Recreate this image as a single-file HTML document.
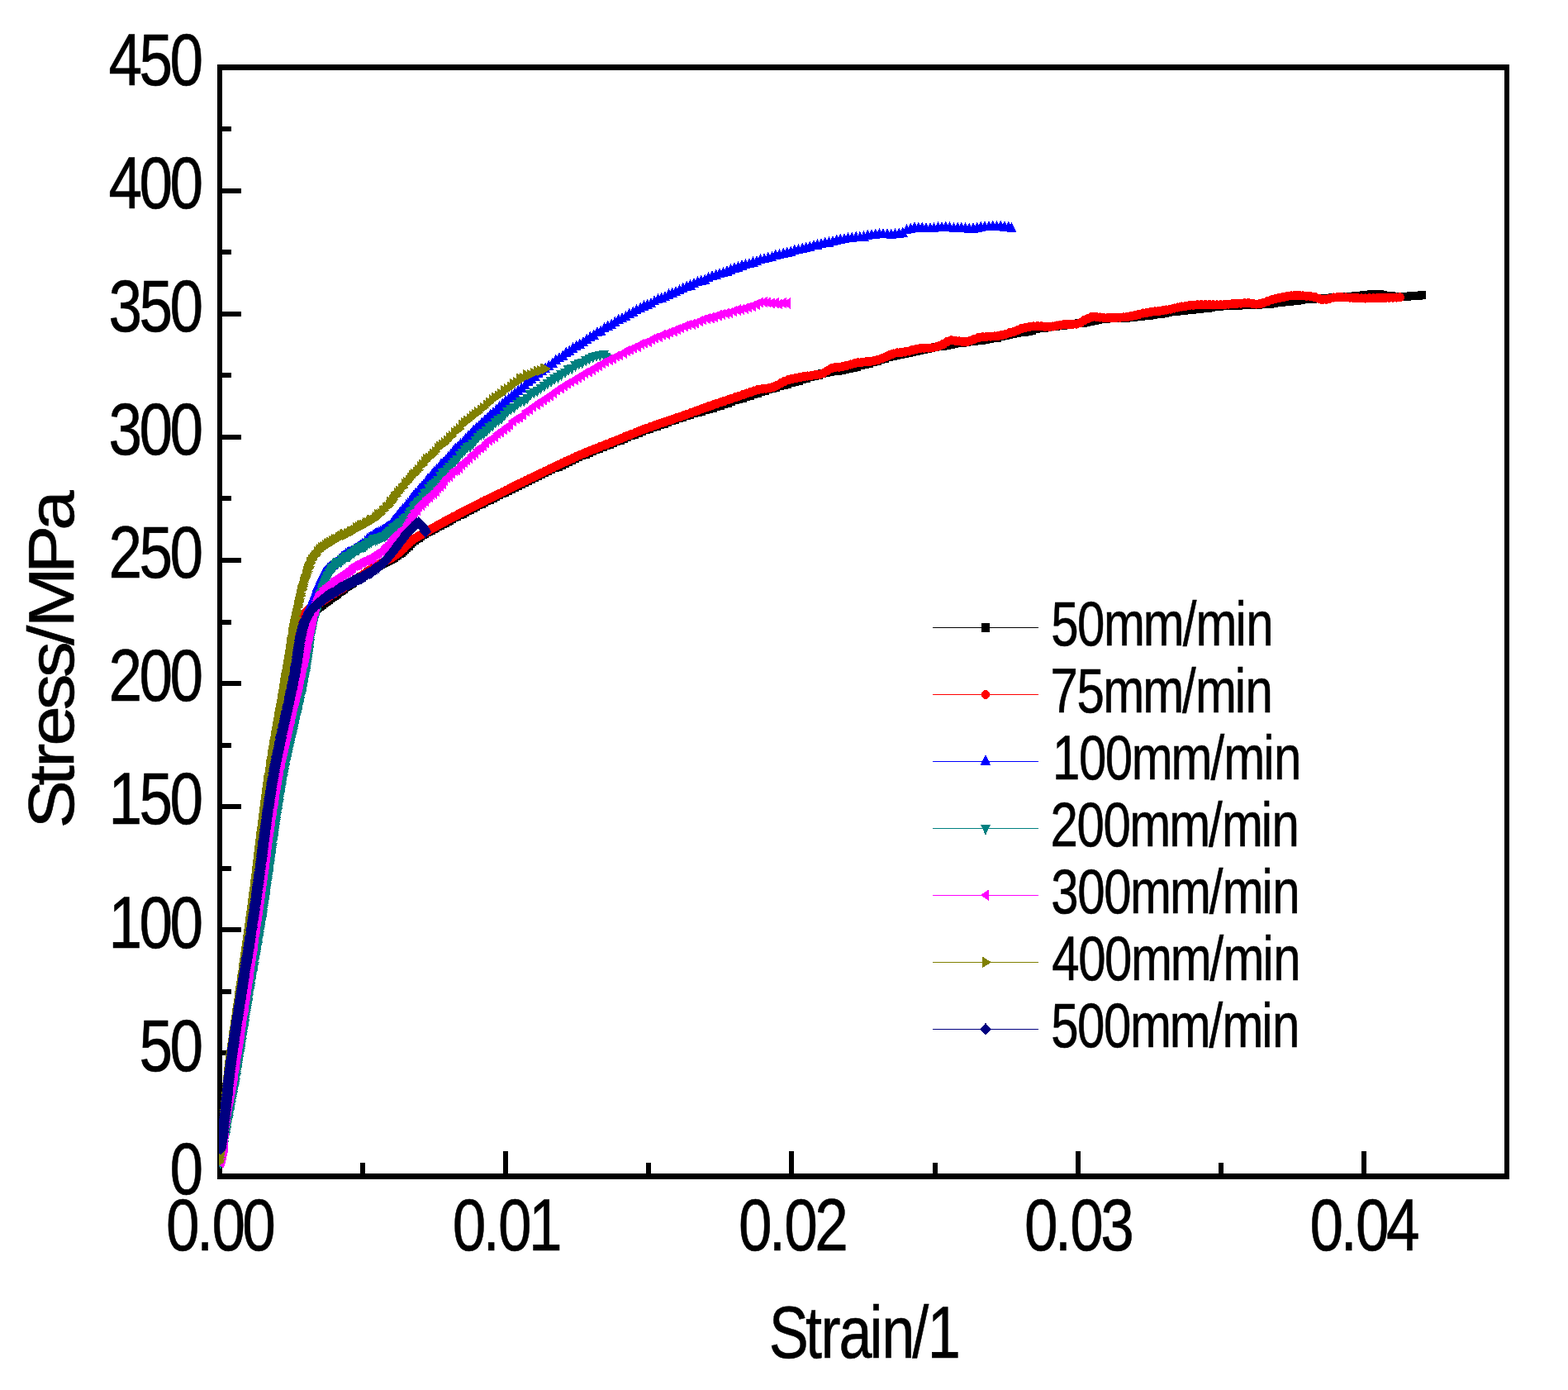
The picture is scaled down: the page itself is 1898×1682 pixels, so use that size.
<!DOCTYPE html>
<html lang="en">
<head>
<meta charset="utf-8">
<title>Stress/MPa vs Strain/1</title>
<style>
html,body{margin:0;padding:0;background:#fff;}
body{width:1898px;height:1682px;overflow:hidden;font-family:"Liberation Sans",Arial,Helvetica,sans-serif;}
svg{display:block;}
</style>
</head>
<body>
<svg width="1898" height="1682" viewBox="0 0 1898 1682">
<rect x="0" y="0" width="1898" height="1682" fill="#fff"/>
<g fill="#000" shape-rendering="crispEdges">
<rect x="263" y="78" width="1564" height="7"/>
<rect x="263" y="1420" width="1564" height="7"/>
<rect x="263" y="78" width="6" height="1349"/>
<rect x="1821" y="78" width="6" height="1349"/>
<rect x="266" y="1420.5" width="26" height="6"/>
<rect x="266" y="1345.9" width="14" height="6"/>
<rect x="266" y="1271.4" width="26" height="6"/>
<rect x="266" y="1196.8" width="14" height="6"/>
<rect x="266" y="1122.3" width="26" height="6"/>
<rect x="266" y="1047.7" width="14" height="6"/>
<rect x="266" y="973.2" width="26" height="6"/>
<rect x="266" y="898.6" width="14" height="6"/>
<rect x="266" y="824.1" width="26" height="6"/>
<rect x="266" y="749.5" width="14" height="6"/>
<rect x="266" y="674.9" width="26" height="6"/>
<rect x="266" y="600.4" width="14" height="6"/>
<rect x="266" y="525.8" width="26" height="6"/>
<rect x="266" y="451.3" width="14" height="6"/>
<rect x="266" y="376.7" width="26" height="6"/>
<rect x="266" y="302.2" width="14" height="6"/>
<rect x="266" y="227.6" width="26" height="6"/>
<rect x="266" y="153.1" width="14" height="6"/>
<rect x="266" y="78.5" width="26" height="6"/>
<rect x="263.0" y="1393" width="6" height="30"/>
<rect x="436.1" y="1407" width="6" height="16"/>
<rect x="609.2" y="1393" width="6" height="30"/>
<rect x="782.3" y="1407" width="6" height="16"/>
<rect x="955.4" y="1393" width="6" height="30"/>
<rect x="1128.6" y="1407" width="6" height="16"/>
<rect x="1301.7" y="1393" width="6" height="30"/>
<rect x="1474.8" y="1407" width="6" height="16"/>
<rect x="1647.9" y="1393" width="6" height="30"/>
<rect x="1821.0" y="1407" width="6" height="16"/>
</g>
<defs>
<marker id="m-black" markerUnits="userSpaceOnUse" markerWidth="20" markerHeight="20" viewBox="-10 -10 20 20" refX="0" refY="0" orient="0" overflow="visible"><g fill="#000000" shape-rendering="crispEdges"><rect x="-5" y="-5" width="10" height="10"/></g></marker>
<marker id="m-red" markerUnits="userSpaceOnUse" markerWidth="20" markerHeight="20" viewBox="-10 -10 20 20" refX="0" refY="0" orient="0" overflow="visible"><g fill="#ff0000" shape-rendering="crispEdges"><ellipse cx="0" cy="0" rx="5.4" ry="5.6"/></g></marker>
<marker id="m-blue" markerUnits="userSpaceOnUse" markerWidth="20" markerHeight="20" viewBox="-10 -10 20 20" refX="0" refY="0" orient="0" overflow="visible"><g fill="#0000ff" shape-rendering="crispEdges"><path d="M0 -6.2 L6.1 6.2 L-6.1 6.2Z"/></g></marker>
<marker id="m-teal" markerUnits="userSpaceOnUse" markerWidth="20" markerHeight="20" viewBox="-10 -10 20 20" refX="0" refY="0" orient="0" overflow="visible"><g fill="#008080" shape-rendering="crispEdges"><path d="M0 6.3 L6.2 -6.3 L-6.2 -6.3Z"/></g></marker>
<marker id="m-magenta" markerUnits="userSpaceOnUse" markerWidth="20" markerHeight="20" viewBox="-10 -10 20 20" refX="0" refY="0" orient="0" overflow="visible"><g fill="#ff00ff" shape-rendering="crispEdges"><path d="M-5.3 0 L5.3 -6.7 L5.3 6.7Z"/></g></marker>
<marker id="m-olive" markerUnits="userSpaceOnUse" markerWidth="20" markerHeight="20" viewBox="-10 -10 20 20" refX="0" refY="0" orient="0" overflow="visible"><g fill="#808000" shape-rendering="crispEdges"><path d="M5.5 0 L-5.5 -6.8 L-5.5 6.8Z"/></g></marker>
<marker id="m-navy" markerUnits="userSpaceOnUse" markerWidth="20" markerHeight="20" viewBox="-10 -10 20 20" refX="0" refY="0" orient="0" overflow="visible"><g fill="#000080" shape-rendering="crispEdges"><path d="M0 -7.5 L6.9 0 L0 7.5 L-6.9 0Z"/></g></marker>
</defs>
<clipPath id="plotclip"><rect x="265" y="84" width="1558" height="1338"/></clipPath>
<g fill="none" stroke-width="1.2" shape-rendering="crispEdges" clip-path="url(#plotclip)">
<polyline stroke="#000000" marker-start="url(#m-black)" marker-mid="url(#m-black)" marker-end="url(#m-black)" points="267.0,1400.0 267.7,1394.0 268.5,1388.1 269.2,1382.1 269.9,1375.9 270.6,1369.7 271.2,1363.7 271.8,1357.8 272.3,1351.8 272.9,1345.8 273.5,1339.8 274.0,1333.9 274.6,1327.9 275.2,1321.7 275.8,1315.5 276.5,1309.2 277.2,1303.0 278.0,1296.8 278.8,1290.6 279.6,1284.4 280.4,1278.3 281.2,1272.1 282.1,1266.1 282.9,1260.2 283.8,1254.2 284.7,1248.3 285.6,1242.4 286.5,1236.4 287.4,1230.5 288.3,1224.6 289.2,1218.6 290.1,1212.7 291.0,1206.8 291.9,1200.8 292.8,1194.7 293.7,1188.5 294.7,1182.3 295.6,1176.4 296.6,1170.4 297.5,1164.5 298.4,1158.6 299.4,1152.7 300.3,1146.7 301.3,1140.8 302.2,1134.9 303.2,1128.7 304.1,1122.5 305.1,1116.4 306.0,1110.2 306.9,1104.0 307.7,1098.1 308.6,1092.1 309.4,1086.2 310.2,1080.2 311.0,1074.3 311.8,1068.3 312.6,1062.4 313.4,1056.4 314.2,1050.5 314.9,1044.5 315.7,1038.6 316.5,1032.6 317.3,1026.7 318.0,1020.7 318.8,1014.8 319.6,1008.8 320.4,1002.9 321.2,996.9 322.1,990.7 323.0,984.5 323.9,978.3 324.8,972.2 325.7,966.0 326.6,959.8 327.6,953.6 328.6,947.5 329.6,941.3 330.7,935.2 331.8,929.0 332.9,922.9 334.0,916.7 335.2,910.6 336.4,904.5 337.6,898.3 338.8,892.5 340.0,886.6 341.2,880.7 342.5,874.8 343.7,869.0 344.9,863.1 346.2,857.2 347.4,851.3 348.7,845.5 349.9,839.6 351.1,833.7 352.4,827.8 353.6,822.0 354.0,820.0 354.3,818.5 354.6,817.1 354.9,815.6 355.2,814.1 355.5,812.6 355.8,811.2 356.1,809.7 356.4,808.2 356.7,806.8 357.0,805.3 357.2,803.8 357.5,802.3 357.8,800.9 358.1,799.4 358.4,797.9 358.7,796.5 358.9,795.0 359.2,793.5 359.5,792.0 359.7,790.5 360.0,789.1 360.3,787.6 360.6,786.1 360.8,784.6 361.1,783.2 361.4,781.4 361.8,779.7 362.1,778.0 362.5,776.3 362.9,774.6 363.3,772.9 363.6,771.4 363.9,770.0 364.3,768.5 364.7,767.0 365.0,765.6 365.4,764.1 365.8,762.7 366.2,761.2 366.8,759.5 367.3,757.9 367.9,756.3 368.5,754.7 369.1,753.3 369.8,751.9 370.5,750.5 371.2,749.2 372.0,747.9 373.0,746.4 374.0,745.1 375.5,743.2 377.1,741.7 378.7,740.2 380.3,738.9 381.9,737.6 383.5,736.4 385.2,735.2 386.8,733.9 388.4,732.7 390.0,731.5 391.5,730.3 393.2,729.1 394.8,727.9 396.4,726.7 398.0,725.6 399.7,724.4 401.3,723.2 402.9,722.1 404.5,720.9 406.1,719.7 407.7,718.5 409.3,717.3 411.0,716.1 412.6,714.9 414.2,713.8 415.8,712.6 417.4,711.4 419.0,710.2 420.6,709.1 422.3,707.9 423.9,706.7 425.6,705.6 427.2,704.5 428.9,703.4 430.5,702.2 432.2,701.1 433.8,700.0 435.5,698.9 437.2,697.8 438.9,696.7 440.5,695.6 442.2,694.6 443.9,693.5 445.6,692.4 447.3,691.4 449.0,690.3 450.7,689.3 452.4,688.2 454.2,687.2 455.9,686.2 457.6,685.3 459.4,684.3 461.2,683.4 463.2,682.3 465.2,681.3 467.2,680.2 469.2,679.1 471.2,678.1 473.2,677.0 475.1,675.9 477.2,674.6 479.3,673.3 481.4,671.9 483.6,670.3 485.7,668.6 488.0,666.7 490.2,664.6 492.4,662.5 494.6,660.5 497.0,658.2 499.4,656.0 501.7,654.1 504.1,652.3 506.5,650.6 509.0,649.0 511.6,647.4 514.2,645.9 516.8,644.4 519.4,643.0 522.1,641.6 524.8,640.2 527.4,638.8 530.1,637.3 532.9,635.8 535.8,634.2 538.6,632.6 541.5,631.1 544.4,629.6 547.2,628.0 550.3,626.4 553.4,624.8 556.5,623.1 559.6,621.5 562.7,619.9 565.8,618.3 569.1,616.6 572.5,614.8 575.8,613.1 579.2,611.4 582.5,609.7 585.9,608.1 589.4,606.3 593.0,604.5 596.6,602.8 600.2,601.0 603.8,599.2 607.6,597.3 611.4,595.5 615.2,593.6 619.0,591.7 622.8,589.8 626.9,587.8 630.9,585.8 635.0,583.9 639.0,581.9 643.1,580.0 647.1,578.0 651.2,576.1 655.3,574.1 659.3,572.2 663.4,570.3 667.4,568.3 671.5,566.4 675.6,564.5 679.7,562.6 683.7,560.7 687.8,558.8 692.1,556.8 696.2,554.9 700.3,553.1 704.4,551.3 708.6,549.5 712.8,547.8 716.9,546.1 721.1,544.4 725.3,542.8 729.5,541.1 733.6,539.4 737.8,537.8 742.0,536.1 746.2,534.4 750.6,532.7 755.0,530.9 759.4,529.1 763.8,527.3 768.2,525.5 772.6,523.8 777.0,522.0 781.5,520.4 785.9,518.7 790.4,517.2 794.9,515.6 799.4,514.1 803.9,512.5 808.4,510.9 812.9,509.3 817.3,507.8 821.8,506.2 826.3,504.7 830.8,503.2 835.4,501.7 839.9,500.4 844.5,499.0 849.0,497.7 853.6,496.3 858.1,494.9 862.6,493.5 867.1,492.0 871.6,490.5 876.1,489.0 880.6,487.5 885.1,485.9 889.7,484.4 894.2,482.9 898.7,481.5 903.2,480.0 907.7,478.5 912.2,477.1 916.8,475.6 921.3,474.2 925.8,472.7 930.4,471.3 934.9,469.9 939.4,468.5 944.0,467.2 948.5,465.8 953.1,464.6 957.7,463.3 962.3,462.0 966.8,460.6 971.4,459.3 976.2,457.8 981.0,456.3 985.8,454.9 990.6,453.6 995.4,452.3 1000.0,451.2 1004.7,450.2 1009.3,449.3 1014.0,448.6 1018.7,447.9 1023.4,447.0 1028.0,446.0 1032.6,444.9 1037.4,443.7 1042.3,442.3 1047.1,440.9 1051.9,439.5 1056.7,438.0 1061.5,436.6 1066.3,435.1 1071.1,433.7 1075.8,432.2 1080.6,430.6 1085.4,429.5 1090.1,428.6 1094.8,427.7 1099.5,426.8 1104.1,425.9 1108.8,425.0 1113.4,424.0 1118.1,423.1 1122.7,422.1 1127.4,421.2 1132.1,420.3 1136.7,419.4 1141.4,418.5 1146.1,417.6 1150.7,416.8 1155.4,416.1 1160.1,415.4 1164.8,414.7 1169.5,414.1 1174.3,413.4 1179.0,412.8 1183.7,412.2 1188.4,411.6 1193.1,410.9 1197.8,410.1 1202.5,409.3 1207.1,408.5 1211.7,407.3 1216.6,406.0 1221.4,404.8 1226.0,403.8 1230.7,403.0 1235.4,402.3 1240.1,401.6 1244.8,400.7 1249.4,399.5 1254.2,398.2 1258.9,397.3 1263.5,396.5 1268.2,395.8 1272.9,395.2 1277.6,394.6 1282.4,394.0 1287.1,393.5 1291.8,393.0 1296.6,392.4 1301.3,391.8 1306.0,391.2 1310.7,390.5 1315.4,389.8 1320.0,388.9 1324.7,388.0 1329.4,387.1 1334.1,386.2 1338.8,385.7 1343.5,385.4 1348.3,385.3 1353.0,385.1 1357.8,384.9 1362.5,384.6 1367.2,384.3 1372.0,383.9 1376.7,383.4 1381.4,382.8 1386.1,382.2 1390.8,381.6 1395.5,380.9 1400.2,380.2 1404.9,379.5 1409.6,378.8 1414.3,378.1 1419.0,377.4 1423.8,376.8 1428.5,376.2 1433.2,375.6 1437.9,375.1 1442.6,374.6 1447.4,374.2 1452.1,373.7 1456.8,373.2 1461.5,372.5 1466.2,371.8 1470.9,371.2 1475.7,370.8 1480.4,370.4 1485.1,370.2 1489.9,369.9 1494.6,369.7 1499.4,369.6 1504.1,369.4 1508.9,369.2 1513.6,369.0 1518.4,368.8 1523.1,368.6 1527.9,368.4 1532.6,368.0 1537.3,367.7 1542.0,367.0 1546.7,366.2 1551.4,365.6 1556.2,365.1 1560.9,364.7 1565.6,364.2 1570.3,363.7 1575.0,362.9 1579.7,362.2 1584.4,361.8 1589.2,361.5 1593.9,361.3 1598.7,361.0 1603.4,360.7 1608.2,360.5 1612.9,360.2 1617.6,359.9 1622.4,359.6 1627.1,359.3 1631.9,359.0 1636.6,358.6 1641.3,358.1 1646.0,357.6 1650.8,357.1 1655.5,356.6 1660.2,356.1 1665.0,355.9 1669.7,356.1 1674.4,356.8 1679.1,357.5 1683.9,358.0 1688.6,358.6 1693.3,359.0 1698.0,358.9 1702.8,358.5 1707.5,358.2 1712.3,357.8 1717.0,357.5 1721.0,357.1"/>
<polyline stroke="#ff0000" marker-start="url(#m-red)" marker-mid="url(#m-red)" marker-end="url(#m-red)" points="267.0,1400.0 267.7,1394.0 268.5,1388.1 269.2,1382.1 269.9,1375.9 270.6,1369.7 271.2,1363.7 271.8,1357.8 272.3,1351.8 272.9,1345.8 273.5,1339.8 274.0,1333.9 274.6,1327.9 275.2,1321.7 275.8,1315.5 276.5,1309.2 277.2,1303.0 278.0,1296.8 278.8,1290.6 279.6,1284.4 280.4,1278.3 281.2,1272.1 282.1,1266.1 282.9,1260.2 283.8,1254.2 284.7,1248.3 285.6,1242.4 286.5,1236.4 287.4,1230.5 288.3,1224.6 289.2,1218.6 290.1,1212.7 291.0,1206.8 291.9,1200.8 292.8,1194.7 293.7,1188.5 294.7,1182.3 295.6,1176.4 296.6,1170.4 297.5,1164.5 298.4,1158.6 299.4,1152.7 300.3,1146.7 301.3,1140.8 302.2,1134.9 303.2,1128.7 304.1,1122.5 305.1,1116.4 306.0,1110.2 306.9,1104.0 307.7,1098.1 308.6,1092.1 309.4,1086.2 310.2,1080.2 311.0,1074.3 311.8,1068.3 312.6,1062.4 313.4,1056.4 314.2,1050.5 315.0,1044.5 315.7,1038.6 316.5,1032.6 317.3,1026.7 318.1,1020.7 318.9,1014.8 319.7,1008.8 320.5,1002.9 321.3,996.9 322.2,990.7 323.0,984.5 323.9,978.4 324.8,972.2 325.7,966.0 326.7,959.8 327.6,953.7 328.6,947.5 329.6,941.3 330.7,935.2 331.7,929.0 332.9,922.9 334.0,916.7 335.2,910.6 336.3,904.7 337.5,898.8 338.7,892.9 339.9,887.1 341.1,881.2 342.3,875.3 343.6,869.4 344.8,863.5 346.0,857.7 347.2,851.8 348.4,845.9 349.6,840.0 350.7,834.1 351.9,828.2 353.0,822.3 353.5,819.9 353.8,818.2 354.1,816.4 354.4,814.7 354.7,813.0 355.0,811.3 355.4,809.6 355.7,807.8 356.0,806.1 356.3,804.4 356.6,802.7 356.8,800.9 357.1,799.2 357.4,797.5 357.6,796.0 357.9,794.5 358.1,793.0 358.3,791.5 358.5,790.1 358.7,788.6 358.9,787.1 359.1,785.6 359.4,784.1 359.6,782.6 359.8,781.2 360.1,779.4 360.4,777.7 360.6,776.0 361.0,774.3 361.3,772.5 361.6,771.1 361.8,769.6 362.1,768.1 362.4,766.6 362.7,765.2 363.1,763.7 363.4,762.2 363.7,760.8 364.1,759.3 364.4,757.8 364.9,756.2 365.3,754.5 365.8,752.8 366.3,751.1 366.7,749.6 367.1,748.1 367.6,746.6 368.1,745.1 368.6,743.7 369.3,742.2 370.1,740.8 371.7,739.0 373.2,737.6 374.8,736.5 376.3,735.5 377.9,734.6 379.6,733.7 381.2,732.8 382.9,732.0 384.5,731.1 386.1,730.2 387.7,729.2 389.3,728.1 391.0,727.0 392.6,725.9 394.3,724.8 396.0,723.6 397.6,722.5 399.3,721.4 401.0,720.3 402.6,719.2 404.3,718.2 406.0,717.1 407.7,716.1 409.4,715.0 410.9,714.1 412.4,713.2 414.0,712.3 415.5,711.5 417.0,710.6 418.5,709.7 420.2,708.6 421.9,707.6 423.6,706.5 425.3,705.5 427.0,704.4 428.6,703.3 430.3,702.1 431.9,701.0 433.6,699.9 435.2,698.7 436.8,697.5 438.4,696.4 440.1,695.2 441.7,694.0 443.3,692.9 445.0,691.7 446.6,690.6 448.3,689.5 449.9,688.3 451.6,687.3 453.3,686.2 455.0,685.2 456.7,684.2 458.5,683.2 460.2,682.2 462.2,681.1 464.2,680.0 466.2,679.0 468.2,677.9 470.2,676.8 472.2,675.7 474.1,674.6 476.3,673.3 478.4,672.0 480.4,670.6 482.6,669.0 484.7,667.3 487.0,665.3 489.2,663.2 491.3,661.1 493.6,658.8 496.0,656.5 498.2,654.5 500.5,652.7 503.0,651.0 505.5,649.4 507.8,647.9 510.2,646.6 512.6,645.2 515.3,643.8 518.0,642.4 520.6,640.9 523.2,639.5 525.8,638.0 528.5,636.5 531.3,635.0 534.2,633.4 537.0,631.8 539.9,630.3 542.7,628.8 545.6,627.2 548.5,625.7 551.6,624.1 554.7,622.5 557.8,620.8 560.9,619.2 564.0,617.6 567.1,616.0 570.4,614.3 573.8,612.6 577.1,610.9 580.4,609.2 583.8,607.5 587.1,605.8 590.7,604.0 594.3,602.3 597.9,600.5 601.5,598.8 605.1,597.0 608.9,595.1 612.7,593.2 616.5,591.3 620.3,589.4 624.1,587.5 628.2,585.5 632.2,583.6 636.3,581.7 640.3,579.7 644.4,577.8 648.5,575.9 652.5,573.9 656.6,571.9 660.6,569.9 664.9,567.8 668.9,565.9 673.0,563.9 677.1,562.0 681.1,560.1 685.2,558.2 689.3,556.3 693.4,554.5 697.5,552.6 701.6,550.8 705.7,549.0 709.9,547.3 714.0,545.5 718.2,543.8 722.4,542.2 726.6,540.5 730.8,538.9 735.0,537.3 739.2,535.6 743.3,534.0 747.5,532.3 751.9,530.5 756.3,528.7 760.7,526.9 765.1,525.1 769.5,523.3 773.9,521.6 778.4,519.9 782.8,518.2 787.3,516.5 791.7,515.0 796.2,513.4 800.7,511.9 805.2,510.4 809.7,508.9 814.2,507.4 818.7,505.8 823.2,504.3 827.7,502.7 832.2,501.1 836.6,499.5 841.1,497.9 845.6,496.2 850.0,494.6 854.5,493.0 859.0,491.4 863.5,489.9 868.0,488.3 872.5,486.8 877.0,485.3 881.5,483.8 886.0,482.2 890.5,480.7 895.0,479.2 899.4,477.6 903.9,476.0 908.4,474.4 912.9,473.0 917.5,471.7 922.2,470.8 926.7,470.1 931.4,469.4 935.9,468.4 940.4,466.3 945.0,463.7 949.6,461.5 954.3,459.7 958.8,458.4 963.4,457.4 968.1,456.6 972.8,455.8 977.5,455.0 982.3,454.4 987.1,453.8 991.7,453.1 996.4,451.8 1001.2,448.9 1005.9,445.9 1010.6,444.8 1015.4,444.1 1020.1,443.4 1024.7,442.3 1029.6,441.0 1034.2,439.8 1038.8,438.8 1043.5,438.2 1048.3,437.8 1053.0,437.3 1057.7,436.7 1062.5,435.5 1067.2,433.8 1071.9,432.0 1076.5,429.9 1081.2,428.0 1086.0,427.0 1090.7,426.5 1095.5,425.9 1100.1,425.0 1104.7,423.6 1109.3,422.3 1114.0,421.5 1118.7,421.2 1123.5,421.1 1128.2,420.9 1132.8,419.9 1137.6,418.2 1142.2,416.2 1146.9,413.3 1151.6,411.8 1156.3,412.2 1161.1,412.9 1165.8,413.5 1170.5,413.4 1175.3,412.0 1180.0,410.1 1184.8,408.5 1189.5,407.8 1194.2,407.5 1199.0,407.2 1203.7,406.9 1208.4,406.3 1213.1,405.3 1217.7,404.1 1222.5,402.7 1227.3,401.3 1232.0,399.5 1236.7,397.6 1241.5,396.2 1246.1,395.4 1250.8,394.9 1255.6,394.7 1260.3,394.8 1265.1,395.3 1269.8,395.4 1274.5,395.0 1279.2,394.0 1283.9,393.1 1288.6,392.6 1293.4,392.4 1298.3,392.3 1302.9,392.1 1307.7,390.8 1312.5,387.7 1317.3,385.2 1321.9,383.3 1326.7,383.3 1331.5,384.0 1336.3,384.6 1341.0,384.7 1345.7,384.6 1350.5,384.4 1355.2,384.2 1360.0,383.9 1364.7,383.4 1369.4,382.7 1374.0,381.7 1378.9,380.3 1383.7,379.0 1388.4,378.2 1393.1,377.5 1397.8,376.9 1402.5,376.4 1407.2,375.8 1411.9,375.0 1416.6,374.1 1421.2,373.0 1425.9,372.0 1430.5,371.0 1435.2,370.3 1439.9,369.7 1444.6,369.2 1449.4,368.8 1454.1,368.6 1458.9,368.6 1463.6,368.7 1468.4,368.8 1473.1,368.9 1477.9,368.8 1482.6,368.5 1487.3,368.1 1492.1,367.7 1496.8,367.4 1501.6,367.1 1506.3,366.8 1511.1,366.7 1515.8,367.2 1520.5,368.1 1525.1,367.8 1529.9,366.2 1534.6,364.3 1539.4,362.8 1544.2,361.4 1548.8,360.3 1553.5,359.4 1558.2,358.5 1562.9,357.9 1567.6,357.5 1572.4,357.6 1577.1,357.9 1581.9,358.2 1586.6,358.8 1591.3,359.5 1596.1,361.1 1600.8,362.6 1605.5,362.3 1610.1,361.1 1614.8,360.0 1619.5,359.7 1624.2,359.7 1629.0,359.9 1633.8,360.1 1638.5,360.4 1643.2,360.7 1648.0,361.0 1652.7,361.0 1657.5,360.9 1662.2,360.8 1667.0,360.7 1671.7,360.5 1676.5,360.4 1681.2,360.2 1686.0,360.1 1690.7,360.0 1694.5,359.9"/>
<polyline stroke="#0000ff" marker-start="url(#m-blue)" marker-mid="url(#m-blue)" marker-end="url(#m-blue)" points="266.2,1399.9 267.0,1394.5 267.8,1387.6 268.6,1382.1 269.3,1375.4 270.0,1369.2 270.7,1362.2 271.3,1357.2 271.9,1349.7 272.5,1344.1 273.0,1338.4 273.6,1333.0 274.1,1326.1 274.7,1321.2 275.3,1315.4 275.9,1308.1 276.5,1302.9 277.2,1296.0 277.9,1290.6 278.7,1284.1 279.5,1279.6 280.3,1272.8 281.1,1267.7 281.9,1261.5 282.8,1255.7 283.6,1248.6 284.5,1242.5 285.4,1237.4 286.3,1230.8 287.2,1225.8 288.1,1219.3 289.0,1213.6 289.9,1208.3 290.9,1201.5 291.7,1194.9 292.6,1189.0 293.5,1183.7 294.4,1177.7 295.4,1172.0 296.3,1165.7 297.2,1160.2 298.2,1153.8 299.1,1148.3 300.1,1142.3 301.1,1135.2 302.1,1129.4 303.0,1123.4 304.0,1117.5 304.9,1110.6 305.9,1104.9 306.8,1098.9 307.6,1093.1 308.5,1086.1 309.3,1080.6 310.2,1073.9 311.0,1068.5 311.8,1062.0 312.5,1057.2 313.3,1050.5 314.1,1045.2 314.9,1038.6 315.7,1033.4 316.4,1026.6 317.2,1020.6 318.0,1015.0 318.8,1009.5 319.6,1003.6 320.4,997.2 321.2,990.4 322.0,985.3 322.8,978.8 323.7,973.4 324.6,967.5 325.5,960.7 326.5,954.6 327.4,947.6 328.4,942.2 329.5,935.4 330.5,930.0 331.6,923.4 332.7,918.2 333.8,911.1 334.9,905.3 336.0,900.4 337.2,894.2 338.3,888.4 339.5,883.0 340.7,876.5 342.0,871.1 343.2,864.8 344.4,859.6 345.7,853.3 346.9,846.6 348.1,841.0 349.4,836.0 350.6,829.3 351.9,823.1 352.6,819.9 352.9,818.3 353.2,817.2 353.6,815.2 354.0,813.2 354.3,811.8 354.7,810.1 355.0,809.1 355.4,807.5 355.7,805.2 356.1,802.7 356.4,802.0 356.8,800.2 357.1,798.7 357.5,796.2 357.8,794.1 358.1,793.5 358.4,791.2 358.7,790.8 359.0,789.3 359.2,787.2 359.5,786.6 359.7,783.9 360.0,783.6 360.3,781.4 360.5,780.4 360.8,778.9 361.1,777.8 361.3,776.3 361.6,773.3 361.9,771.8 362.2,771.2 362.5,768.9 362.8,768.4 363.2,766.7 363.5,765.4 363.9,763.6 364.3,761.9 364.7,761.5 365.1,759.7 365.6,757.1 366.0,755.8 366.5,755.2 367.0,753.2 367.5,752.0 368.0,751.1 368.5,749.0 369.1,748.5 369.6,746.8 370.2,744.9 370.7,742.9 371.2,741.8 371.7,740.9 372.3,739.9 372.8,737.0 373.4,735.7 374.0,735.3 374.6,734.1 375.2,731.5 375.9,731.1 376.6,729.4 377.3,727.7 378.0,725.6 378.7,724.1 379.4,722.4 380.1,721.6 380.7,719.1 381.3,717.5 381.8,717.1 382.4,715.6 382.9,714.3 383.4,712.6 383.9,710.0 384.4,708.6 384.9,707.9 385.5,706.9 386.1,705.6 386.6,703.8 387.2,702.9 387.9,700.2 388.6,698.9 389.3,697.7 390.1,696.3 390.8,695.0 391.6,693.4 392.4,692.5 393.3,690.6 394.2,690.1 395.1,689.5 396.7,686.8 398.2,685.6 399.8,684.5 401.3,684.0 402.9,682.7 404.5,681.9 406.2,680.0 407.7,679.8 409.2,677.2 410.9,675.8 412.4,674.7 414.1,672.5 415.6,672.0 417.3,670.6 418.9,668.5 420.5,667.8 422.2,666.7 423.8,667.3 425.4,665.7 426.9,665.0 428.6,663.8 430.3,662.5 432.0,662.0 433.7,660.6 435.3,660.0 436.9,658.3 438.5,657.6 440.0,656.9 441.6,654.5 443.2,653.9 444.8,650.9 446.6,650.1 448.2,649.0 449.9,648.4 451.6,647.1 453.3,645.3 455.0,644.6 456.8,643.9 458.6,642.6 460.5,642.1 462.4,641.3 464.3,639.8 466.3,639.1 468.3,637.0 470.3,635.6 472.3,634.3 474.2,631.7 476.2,628.9 478.2,626.4 480.3,624.2 482.3,621.6 483.7,620.0 485.1,618.5 487.3,615.2 489.5,613.7 491.7,610.3 493.9,607.9 496.2,605.3 498.4,601.7 500.8,598.8 503.2,596.0 505.6,594.5 508.0,590.2 510.5,587.8 512.9,585.7 515.4,582.4 518.0,578.4 520.6,576.8 523.3,573.0 525.9,569.7 528.6,566.9 531.3,564.4 534.0,560.5 536.9,558.4 539.8,555.2 542.7,551.5 545.6,548.7 548.5,545.2 551.4,541.8 554.4,539.6 557.5,536.2 560.6,533.6 563.8,529.3 567.0,526.5 570.2,523.7 573.4,519.5 576.6,516.8 579.9,514.3 583.3,510.3 586.8,507.2 590.3,504.3 593.7,500.8 597.2,498.3 600.8,495.1 604.5,491.6 608.2,487.6 611.9,483.9 615.7,481.3 619.5,477.7 623.3,474.6 627.3,471.4 631.3,468.5 635.4,464.9 639.5,460.5 643.6,458.3 647.7,454.7 651.8,451.1 656.0,448.3 660.1,444.8 664.4,441.8 668.6,438.6 672.8,435.0 677.1,432.2 681.2,429.4 685.3,426.0 689.4,423.9 693.5,420.6 697.7,418.0 701.8,415.8 706.0,412.9 710.2,409.5 714.4,406.9 718.7,404.5 722.9,401.3 727.2,399.5 731.5,396.3 735.8,393.5 740.1,391.7 744.4,388.9 748.8,385.9 753.1,384.0 757.5,381.8 761.9,378.5 766.3,376.9 770.7,374.1 775.2,372.0 779.4,369.4 783.7,367.8 787.9,366.2 792.2,363.3 796.5,361.0 800.8,359.9 805.1,358.0 809.4,355.4 813.8,354.0 818.1,352.0 822.5,349.9 826.8,348.1 831.2,345.5 835.6,344.4 840.0,342.1 844.4,340.2 848.8,338.7 853.2,337.4 857.7,335.1 862.1,333.0 866.6,331.6 871.0,330.0 875.5,328.8 880.0,327.5 884.5,325.5 889.0,323.6 893.5,322.6 898.0,320.4 902.5,318.9 907.0,318.1 911.6,316.4 916.1,315.0 920.7,313.2 925.2,312.3 929.8,311.1 934.3,310.2 938.9,307.8 943.5,307.1 948.1,305.8 952.7,304.7 957.2,303.8 961.8,302.1 966.4,301.0 971.1,299.8 975.7,299.0 980.3,298.0 984.9,296.1 989.5,295.5 994.1,294.3 998.8,292.9 1003.4,292.4 1008.0,291.1 1012.6,289.7 1017.3,288.7 1021.9,288.2 1026.6,287.0 1031.4,286.5 1036.1,285.8 1040.9,285.9 1045.6,285.5 1050.2,283.9 1054.9,283.0 1059.6,282.8 1064.4,282.3 1069.1,282.0 1073.9,282.2 1078.6,282.6 1083.4,282.1 1088.2,281.8 1092.8,280.7 1097.5,277.2 1102.3,275.9 1107.0,274.4 1111.6,274.8 1116.4,274.6 1121.1,275.1 1125.9,275.1 1130.6,275.1 1135.4,274.2 1140.1,274.2 1144.9,273.8 1149.6,273.9 1154.4,275.2 1159.1,274.7 1163.9,274.6 1168.6,274.9 1173.3,275.8 1178.0,275.4 1182.7,274.8 1187.4,273.8 1192.2,273.1 1196.9,273.1 1201.7,272.5 1206.5,272.7 1211.3,272.6 1216.0,273.6 1220.8,273.5 1224.5,275.2"/>
<polyline stroke="#008080" marker-start="url(#m-teal)" marker-mid="url(#m-teal)" marker-end="url(#m-teal)" points="267.0,1409.2 267.3,1408.6 267.6,1405.8 267.9,1405.1 268.1,1402.8 268.4,1401.0 268.7,1398.1 269.0,1398.2 269.3,1394.2 269.6,1393.0 269.9,1391.8 270.2,1390.9 270.5,1387.7 270.8,1387.6 271.1,1386.2 271.4,1382.5 271.7,1381.8 272.0,1378.7 272.3,1377.9 272.6,1375.3 272.9,1375.8 273.2,1372.8 273.5,1372.3 273.9,1370.2 274.2,1368.7 274.5,1365.3 274.8,1363.3 275.1,1362.9 275.4,1360.1 275.7,1359.8 276.1,1357.3 276.4,1355.8 276.7,1355.1 277.0,1352.4 277.3,1349.6 277.6,1348.3 277.9,1347.7 278.1,1346.2 278.4,1345.0 278.7,1343.0 278.9,1342.1 279.2,1340.0 279.5,1339.1 279.8,1337.9 280.0,1335.1 280.3,1334.1 280.6,1332.9 280.8,1331.9 281.1,1329.3 281.4,1328.6 281.6,1327.3 281.9,1326.4 282.2,1323.7 282.4,1322.9 282.7,1320.3 282.9,1319.6 283.2,1317.3 283.5,1317.6 283.7,1315.0 284.0,1314.5 284.2,1312.0 284.5,1311.7 284.7,1309.0 285.0,1307.4 285.2,1306.4 285.5,1305.6 285.7,1304.2 286.0,1302.1 286.2,1299.4 286.5,1299.1 286.7,1296.8 287.0,1296.5 287.2,1295.4 287.4,1293.0 287.7,1291.7 287.9,1288.9 288.2,1288.6 288.4,1286.1 288.6,1285.8 288.9,1283.7 289.1,1283.2 289.4,1280.0 289.6,1278.7 289.8,1278.6 290.1,1276.7 290.3,1275.3 290.5,1274.5 290.8,1272.2 291.0,1271.5 291.2,1269.3 291.5,1268.8 291.7,1266.7 291.9,1264.0 292.2,1263.0 292.4,1262.7 292.6,1260.0 292.9,1258.1 293.1,1257.3 293.3,1255.7 293.6,1254.7 293.8,1252.8 294.0,1250.9 294.2,1249.8 294.5,1248.3 294.7,1248.0 294.9,1246.7 295.2,1244.3 295.4,1241.6 295.6,1241.6 295.9,1240.0 296.1,1238.9 296.3,1236.3 296.6,1233.9 296.9,1233.5 297.2,1230.6 297.4,1230.3 297.7,1228.7 298.0,1226.1 298.2,1225.6 298.5,1222.0 298.8,1222.1 299.1,1219.3 299.4,1218.3 299.6,1216.5 299.9,1215.3 300.2,1213.6 300.5,1209.6 300.8,1207.8 301.0,1207.4 301.3,1204.4 301.6,1204.2 301.9,1202.2 302.2,1200.8 302.5,1198.5 302.8,1196.4 303.0,1196.3 303.3,1194.0 303.6,1190.6 303.9,1189.1 304.2,1188.6 304.5,1186.1 304.8,1184.6 305.1,1183.8 305.4,1181.0 305.7,1180.7 306.0,1178.5 306.3,1176.3 306.6,1173.7 306.9,1172.6 307.2,1171.7 307.5,1170.5 307.8,1166.6 308.0,1165.2 308.3,1165.2 308.5,1164.0 308.8,1160.7 309.0,1161.0 309.3,1159.4 309.6,1157.7 309.8,1155.4 310.1,1154.2 310.3,1152.5 310.6,1152.2 310.8,1149.4 311.1,1148.0 311.3,1147.9 311.6,1146.4 311.8,1145.1 312.1,1143.2 312.3,1140.0 312.6,1138.5 312.8,1138.2 313.1,1137.4 313.3,1136.0 313.6,1133.9 313.8,1133.2 314.1,1129.8 314.3,1128.5 314.6,1127.3 314.8,1125.6 315.1,1124.3 315.3,1122.3 315.5,1121.4 315.8,1119.1 316.0,1118.9 316.2,1118.4 316.5,1115.7 316.7,1114.6 317.0,1113.1 317.2,1112.4 317.4,1110.4 317.7,1109.2 317.9,1106.5 318.1,1106.4 318.3,1103.2 318.6,1102.2 318.8,1101.6 319.0,1099.1 319.2,1098.9 319.5,1097.4 319.7,1094.2 319.9,1092.9 320.1,1091.0 320.3,1091.5 320.6,1088.7 320.8,1087.4 321.0,1085.6 321.2,1083.8 321.4,1083.1 321.6,1081.0 321.9,1080.4 322.1,1078.0 322.3,1077.3 322.5,1076.8 322.7,1073.9 322.9,1073.9 323.1,1070.2 323.3,1069.9 323.6,1068.6 323.8,1067.9 324.0,1066.4 324.2,1063.9 324.4,1063.0 324.6,1062.0 324.8,1060.0 325.0,1059.0 325.2,1057.5 325.4,1054.9 325.6,1053.8 325.8,1051.2 326.1,1050.3 326.3,1049.9 326.5,1047.7 326.7,1045.5 326.9,1043.6 327.1,1042.4 327.3,1040.7 327.5,1039.4 327.7,1038.3 327.9,1036.0 328.1,1036.4 328.3,1033.9 328.5,1032.8 328.8,1031.5 329.0,1028.8 329.2,1027.2 329.4,1025.9 329.6,1026.4 329.8,1022.8 330.0,1022.1 330.2,1021.7 330.4,1019.5 330.6,1016.6 330.9,1017.2 331.1,1014.5 331.3,1012.5 331.5,1011.4 331.7,1010.6 331.9,1007.8 332.1,1007.7 332.4,1005.9 332.6,1003.3 332.9,1002.0 333.1,999.7 333.4,997.6 333.7,997.2 333.9,995.1 334.2,994.4 334.4,991.1 334.7,989.9 335.0,988.8 335.2,985.6 335.5,984.5 335.8,983.6 336.0,980.8 336.3,979.4 336.6,978.2 336.8,976.0 337.1,975.4 337.4,973.7 337.7,971.9 337.9,969.2 338.2,966.9 338.5,966.2 338.8,964.0 339.1,962.5 339.4,961.1 339.6,960.1 339.9,958.0 340.2,954.7 340.5,954.8 340.8,952.5 341.1,950.0 341.4,949.2 341.7,946.9 342.0,945.4 342.4,943.7 342.7,941.0 343.0,939.8 343.3,938.2 343.7,935.6 344.0,935.5 344.3,932.8 344.7,931.5 345.0,930.9 345.4,929.0 345.7,925.8 346.1,924.4 346.5,923.1 346.8,920.3 347.2,920.3 347.5,917.4 347.9,915.2 348.3,914.9 348.7,912.7 349.0,909.9 349.4,909.4 349.8,908.2 350.2,904.8 350.6,904.6 350.9,901.9 351.3,900.8 351.6,898.5 351.9,898.2 352.3,897.7 352.6,894.7 352.9,892.6 353.3,893.1 353.6,891.8 353.9,889.3 354.3,888.8 354.6,887.4 354.9,885.5 355.3,884.2 355.6,881.2 356.0,881.3 356.3,878.9 356.6,877.1 357.0,876.3 357.3,875.5 357.6,873.0 358.0,870.7 358.3,869.8 358.6,868.3 359.0,867.8 359.3,867.0 359.6,864.5 360.0,862.4 360.3,862.0 360.6,859.2 360.9,857.5 361.3,857.4 361.6,855.3 361.9,854.0 362.2,851.7 362.6,851.2 362.9,850.0 363.2,849.4 363.5,845.7 363.8,845.4 364.1,843.8 364.4,842.7 364.8,841.8 365.1,839.4 365.4,838.2 365.7,836.5 366.0,835.8 366.3,834.5 366.6,831.7 366.8,831.2 367.1,829.5 367.4,827.4 367.7,826.9 368.0,825.2 368.3,823.2 368.5,821.9 368.8,821.4 369.1,819.2 369.4,817.7 369.6,815.6 369.9,815.1 370.1,813.8 370.4,811.0 370.6,809.5 370.9,808.9 371.1,806.5 371.4,804.5 371.6,803.5 371.8,803.0 372.0,801.1 372.3,799.8 372.5,798.4 372.6,796.7 372.8,796.2 373.0,794.3 373.2,793.2 373.4,791.1 373.5,789.8 373.7,788.2 373.9,787.2 374.1,784.3 374.3,782.7 374.5,780.5 374.7,779.1 374.9,779.8 375.1,776.9 375.4,774.3 375.6,772.6 375.9,771.8 376.2,770.4 376.5,769.2 376.9,766.8 377.2,764.6 377.6,763.7 378.0,760.8 378.3,759.5 378.7,757.3 379.1,756.9 379.5,754.9 380.0,752.9 380.4,750.7 380.8,750.5 381.2,747.8 381.7,747.3 382.1,744.1 382.6,743.3 383.0,741.8 383.4,738.7 383.9,737.1 384.3,736.8 384.8,733.5 385.1,733.0 385.5,730.6 385.9,731.2 386.3,729.5 386.7,726.6 387.1,726.6 387.5,724.9 388.0,721.7 388.5,720.4 389.0,719.6 389.5,718.1 390.1,715.6 390.7,713.5 391.2,712.7 391.8,711.7 392.4,709.5 393.1,707.2 393.7,705.8 394.3,705.5 394.8,703.4 395.4,702.7 396.0,699.9 396.7,699.8 397.4,698.7 398.2,697.4 399.0,694.5 399.8,694.5 400.5,692.3 401.3,690.2 402.1,688.2 403.1,688.3 404.7,687.2 406.2,684.8 407.9,682.8 409.4,681.6 411.1,680.9 412.6,681.0 414.1,678.7 415.7,677.7 417.2,676.9 418.8,675.3 420.3,674.5 422.0,674.5 423.6,673.5 425.2,671.0 426.8,670.1 428.3,669.9 429.8,668.2 431.3,666.5 433.0,666.7 434.5,665.7 436.1,663.9 437.7,662.6 439.3,663.4 441.0,662.8 442.6,661.4 444.2,660.8 445.8,657.8 447.4,658.1 449.2,657.3 450.9,654.9 452.7,653.7 454.6,654.8 456.3,654.0 458.0,652.5 459.8,652.6 461.8,651.1 463.7,650.4 465.7,649.9 467.7,648.4 469.7,646.8 471.7,644.4 473.6,643.2 475.6,640.2 477.7,639.7 479.9,638.6 482.0,636.7 484.1,634.7 486.3,633.3 488.6,630.6 490.9,628.4 493.2,627.1 495.4,624.4 496.8,621.3 498.2,620.0 499.5,618.9 500.9,615.6 502.4,613.6 503.9,612.4 505.4,609.9 507.0,608.6 509.5,606.1 512.0,602.5 514.5,598.4 517.1,597.5 519.6,592.8 522.2,589.2 524.8,587.2 527.4,585.1 530.2,582.1 533.0,577.1 535.8,573.8 538.7,572.5 541.6,569.4 544.5,566.4 547.4,563.0 550.3,560.1 553.2,557.0 556.3,551.9 559.5,549.0 562.6,545.5 565.8,542.2 569.0,541.4 572.2,538.4 575.5,534.2 578.8,530.2 582.1,527.1 585.6,525.8 589.1,522.6 592.6,518.7 596.2,515.9 599.8,512.6 603.4,509.8 607.1,507.4 610.7,503.1 614.4,499.3 618.3,496.2 622.3,494.5 626.2,490.0 630.2,487.1 634.2,486.0 638.2,483.2 642.2,478.8 646.3,476.0 650.4,474.1 654.5,471.2 658.7,468.0 662.8,465.1 667.0,462.7 671.2,459.7 675.4,457.6 679.6,454.7 683.9,451.9 688.0,448.8 692.2,446.9 696.4,443.6 700.7,441.2 704.8,440.1 709.2,437.4 713.4,435.1 717.7,433.3 722.0,431.9 726.3,431.4 730.6,430.4 733.4,433.1 735.0,435.6"/>
<polyline stroke="#ff00ff" marker-start="url(#m-magenta)" marker-mid="url(#m-magenta)" marker-end="url(#m-magenta)" points="265.6,1406.7 266.0,1404.4 266.5,1404.4 266.9,1402.3 267.3,1401.4 267.8,1400.2 268.3,1397.7 268.7,1395.9 269.1,1393.4 269.5,1392.1 269.8,1390.9 270.1,1389.5 270.3,1388.0 270.4,1385.5 270.6,1383.1 270.7,1382.0 270.7,1381.8 270.8,1378.9 270.9,1377.8 270.9,1377.3 271.0,1374.0 271.1,1373.6 271.1,1372.8 271.2,1369.9 271.3,1368.8 271.5,1367.8 271.6,1364.5 271.8,1363.5 271.9,1362.2 272.1,1360.3 272.3,1358.2 272.5,1355.9 272.8,1354.8 273.0,1353.0 273.2,1351.8 273.4,1350.1 273.6,1349.5 273.8,1347.9 274.1,1345.5 274.3,1344.5 274.6,1342.5 274.8,1341.3 275.1,1339.6 275.3,1338.8 275.6,1336.7 275.9,1335.4 276.1,1334.5 276.4,1332.4 276.7,1331.9 277.0,1328.9 277.2,1328.6 277.5,1326.5 277.8,1325.0 278.1,1323.9 278.4,1322.2 278.6,1320.5 278.9,1318.2 279.2,1317.0 279.5,1316.7 279.8,1314.9 280.0,1313.7 280.3,1312.8 280.6,1310.8 280.8,1308.0 281.2,1306.8 281.5,1305.7 281.8,1303.2 282.0,1302.9 282.3,1301.2 282.6,1299.3 282.9,1296.8 283.1,1295.8 283.4,1292.6 283.7,1291.3 284.0,1289.8 284.2,1288.7 284.5,1286.4 284.8,1284.0 285.1,1282.7 285.3,1280.9 285.6,1279.1 285.9,1277.2 286.1,1275.9 286.4,1274.3 286.7,1273.2 286.9,1271.5 287.2,1269.2 287.5,1267.4 287.8,1266.3 288.0,1264.8 288.3,1262.6 288.6,1261.1 288.8,1259.7 289.1,1256.2 289.4,1256.1 289.6,1253.2 289.9,1251.8 290.2,1250.7 290.4,1248.9 290.7,1246.0 291.0,1245.3 291.2,1242.4 291.5,1241.2 291.8,1240.4 292.0,1237.9 292.3,1236.5 292.6,1235.0 292.8,1233.5 293.1,1231.6 293.3,1228.4 293.6,1227.5 293.9,1225.9 294.1,1223.3 294.4,1222.6 294.7,1221.0 294.9,1219.7 295.2,1218.2 295.4,1214.8 295.7,1213.3 296.0,1212.4 296.2,1209.6 296.5,1208.1 296.8,1207.1 297.0,1204.5 297.3,1204.0 297.5,1202.4 297.8,1199.0 298.1,1198.3 298.3,1197.1 298.6,1195.7 298.8,1192.6 299.1,1190.7 299.4,1190.4 299.6,1188.7 299.9,1185.5 300.1,1184.3 300.4,1183.1 300.6,1181.6 300.9,1178.6 301.2,1177.8 301.4,1176.4 301.7,1174.1 301.9,1171.6 302.2,1169.6 302.4,1168.4 302.7,1167.7 302.9,1164.5 303.2,1162.6 303.4,1161.6 303.7,1159.3 304.0,1157.7 304.2,1155.8 304.5,1155.0 304.7,1153.6 305.0,1151.4 305.2,1149.0 305.5,1147.7 305.7,1146.5 306.0,1145.5 306.2,1144.1 306.4,1141.1 306.6,1139.2 306.8,1139.3 307.1,1138.0 307.3,1135.6 307.5,1134.7 307.7,1133.4 307.9,1131.4 308.1,1130.5 308.3,1127.3 308.6,1126.3 308.8,1124.8 309.0,1123.0 309.2,1123.1 309.4,1119.9 309.6,1119.7 309.9,1117.0 310.1,1116.1 310.3,1114.7 310.5,1112.8 310.7,1112.0 310.9,1110.5 311.2,1108.3 311.5,1107.5 311.7,1104.6 312.0,1102.9 312.2,1101.7 312.4,1100.3 312.6,1098.5 312.8,1098.4 313.0,1096.7 313.2,1093.8 313.4,1092.9 313.7,1091.1 313.9,1090.1 314.1,1088.2 314.3,1087.2 314.5,1086.5 314.7,1084.0 314.9,1083.0 315.1,1081.4 315.3,1080.3 315.5,1077.4 315.7,1077.3 315.9,1076.2 316.1,1074.0 316.3,1071.9 316.6,1071.2 316.8,1069.8 317.0,1068.2 317.2,1065.7 317.4,1065.8 317.6,1064.3 317.8,1061.7 318.0,1060.6 318.2,1058.0 318.4,1058.4 318.6,1056.6 318.8,1054.7 319.0,1053.5 319.2,1050.9 319.4,1049.6 319.6,1048.0 319.8,1047.2 320.0,1044.7 320.2,1044.8 320.4,1042.5 320.6,1041.0 320.8,1038.8 321.0,1038.5 321.2,1037.2 321.4,1035.4 321.6,1033.1 321.8,1032.7 322.0,1030.0 322.2,1029.8 322.4,1027.8 322.6,1025.8 322.8,1024.7 323.0,1023.5 323.2,1021.3 323.5,1020.9 323.7,1018.6 323.9,1018.1 324.1,1016.5 324.3,1013.5 324.5,1013.1 324.7,1011.0 324.9,1010.4 325.1,1008.4 325.3,1006.8 325.5,1006.2 325.8,1003.0 326.0,1002.5 326.2,1000.6 326.4,998.5 326.6,998.5 326.8,996.6 327.0,995.8 327.3,993.7 327.5,991.5 327.8,991.0 328.0,987.6 328.3,985.7 328.5,985.3 328.8,982.9 329.1,981.1 329.3,980.4 329.6,977.6 329.9,977.0 330.1,974.8 330.4,972.4 330.7,970.1 331.0,968.8 331.2,968.5 331.5,965.7 331.8,963.4 332.1,962.0 332.3,961.5 332.6,958.3 332.9,957.8 333.2,954.8 333.5,954.7 333.8,952.1 334.1,949.4 334.4,949.5 334.7,946.6 335.0,945.6 335.3,943.5 335.6,940.9 335.9,939.2 336.2,937.6 336.5,935.9 336.8,933.9 337.1,932.2 337.5,932.3 337.8,928.9 338.1,928.0 338.5,925.5 338.8,924.0 339.2,923.3 339.5,922.0 339.8,919.3 340.2,916.7 340.6,917.0 340.9,913.4 341.3,912.3 341.6,911.2 341.9,910.4 342.2,908.8 342.5,906.9 342.9,905.0 343.2,904.4 343.5,903.0 343.8,901.6 344.2,899.8 344.5,897.1 344.8,896.0 345.2,894.9 345.5,893.5 345.8,892.7 346.2,890.0 346.5,889.4 346.8,887.4 347.2,886.7 347.5,884.1 347.9,883.2 348.2,881.0 348.5,879.8 348.9,879.7 349.2,877.0 349.6,876.7 349.9,874.5 350.3,872.1 350.6,872.2 351.0,869.2 351.3,869.3 351.7,866.2 352.0,866.1 352.4,863.6 352.7,862.5 353.1,862.2 353.4,859.9 353.8,858.7 354.1,857.4 354.4,854.7 354.8,854.7 355.1,853.4 355.5,850.4 355.8,849.7 356.2,847.8 356.5,847.2 356.9,844.3 357.2,843.8 357.6,842.9 357.9,841.4 358.3,838.6 358.6,838.6 359.0,836.0 359.3,835.7 359.6,833.6 360.0,831.4 360.3,831.1 360.7,829.8 361.0,828.1 361.3,827.2 361.7,824.3 362.0,822.8 362.3,821.2 362.7,820.3 363.1,818.3 363.5,816.5 363.9,815.0 364.2,812.9 364.6,810.7 365.0,809.9 365.4,807.8 365.7,806.4 366.1,805.7 366.5,802.5 366.8,801.7 367.2,800.0 367.5,797.5 367.9,796.2 368.2,795.5 368.6,792.5 368.9,791.5 369.2,790.1 369.6,787.4 369.8,787.2 370.1,785.0 370.4,783.2 370.7,782.2 370.9,780.1 371.2,779.2 371.5,776.9 371.8,776.7 372.1,774.5 372.3,772.4 372.6,771.3 372.9,770.8 373.2,769.1 373.5,767.0 373.8,765.3 374.1,763.8 374.4,763.6 374.7,760.4 375.0,760.5 375.3,758.9 375.7,756.2 376.0,755.0 376.3,753.9 376.6,752.9 377.0,751.8 377.3,750.4 377.6,747.5 378.0,745.9 378.3,745.0 378.7,743.7 379.1,742.4 379.5,739.6 379.9,739.2 380.3,738.3 380.6,736.8 381.0,735.3 381.3,733.8 381.7,732.3 382.1,729.0 382.4,729.3 382.8,726.5 383.3,725.0 383.9,723.6 384.4,723.2 385.0,721.1 385.7,719.2 386.6,717.9 387.6,717.7 389.2,715.7 390.7,712.8 392.2,711.5 393.8,710.3 395.4,708.7 397.0,708.1 398.5,706.1 400.0,705.4 401.6,704.9 403.3,703.4 404.9,700.7 406.6,699.8 408.3,699.0 409.9,698.4 411.6,696.8 413.3,695.4 414.9,694.5 416.6,693.1 418.1,693.3 419.7,691.9 421.2,690.1 422.7,689.4 424.3,687.6 425.8,686.3 427.5,684.6 429.1,683.8 430.8,684.1 432.5,683.0 434.1,682.3 435.8,680.2 437.4,680.3 439.0,679.3 440.7,678.1 442.4,678.1 444.0,676.8 445.6,676.4 447.3,676.6 449.1,675.2 450.9,674.0 452.6,671.5 454.5,670.6 456.3,669.1 458.1,668.0 460.0,666.6 461.8,666.8 463.6,665.0 465.6,661.8 467.5,659.9 469.4,659.5 471.4,656.5 473.3,653.8 474.5,652.4 475.8,650.4 477.8,648.7 479.8,646.7 482.0,644.4 484.2,643.3 486.3,640.4 488.5,639.6 490.4,638.4 491.8,634.7 492.9,633.5 494.0,631.8 495.1,629.2 496.1,628.4 497.2,625.3 498.4,623.2 499.7,622.2 501.0,618.6 503.5,617.3 505.9,613.2 508.3,611.1 510.8,608.7 513.3,606.2 515.9,603.0 518.4,601.2 521.0,598.7 523.6,597.2 526.2,594.4 528.9,590.8 531.7,588.6 534.4,585.5 537.1,581.6 539.9,578.2 542.8,576.3 545.7,572.9 548.6,569.5 551.5,568.7 554.5,566.0 557.6,562.2 560.7,559.5 563.9,556.8 567.1,554.5 570.3,550.7 573.6,548.2 576.8,544.7 580.2,541.8 583.7,539.5 587.1,536.0 590.6,532.7 594.1,530.5 597.6,528.4 601.1,524.7 604.9,522.9 608.6,519.6 612.3,516.6 616.1,514.1 619.9,509.6 623.9,506.8 627.9,505.2 631.9,502.2 636.0,497.6 640.0,495.8 644.1,492.0 648.2,489.2 652.3,486.3 656.4,483.7 660.6,481.0 664.7,478.8 668.9,475.4 673.1,472.3 677.3,469.7 681.5,466.7 685.7,464.1 690.0,461.9 694.3,459.4 698.4,456.6 702.7,454.2 707.0,451.4 711.2,449.6 715.3,447.0 719.4,444.3 723.6,442.4 727.8,439.8 732.0,437.7 736.2,435.2 740.4,433.8 744.7,431.0 748.9,429.7 753.2,426.9 757.4,424.5 761.7,423.1 766.0,421.0 770.4,419.2 774.7,416.3 779.0,415.1 783.4,413.3 787.7,410.7 792.1,409.0 796.5,407.4 800.9,405.1 805.3,404.1 809.8,402.1 814.2,400.5 818.6,398.4 823.1,396.8 827.6,394.7 832.1,393.3 836.6,392.2 841.1,391.0 845.6,388.5 850.1,386.9 854.6,385.4 859.2,384.5 863.8,383.5 868.3,381.5 872.9,380.5 877.5,379.2 882.1,378.4 886.7,376.4 891.3,375.0 896.0,374.5 900.5,373.2 905.0,371.8 909.5,370.3 914.2,368.2 918.9,365.9 923.5,365.5 928.1,365.8 932.7,366.9 937.4,366.6 942.0,367.9 946.5,366.6 951.2,367.0 951.7,366.7"/>
<polyline stroke="#808000" marker-start="url(#m-olive)" marker-mid="url(#m-olive)" marker-end="url(#m-olive)" points="266.7,1406.0 266.8,1403.8 266.8,1403.9 266.9,1400.6 267.1,1400.5 267.2,1397.7 267.3,1396.3 267.4,1394.9 267.6,1392.6 267.7,1390.3 267.8,1388.3 268.0,1386.3 268.2,1386.1 268.3,1383.7 268.5,1381.3 268.7,1381.3 268.9,1378.1 269.1,1376.7 269.3,1374.6 269.4,1374.0 269.6,1372.3 269.7,1370.9 269.9,1368.6 270.1,1367.2 270.2,1365.6 270.4,1364.3 270.5,1362.3 270.7,1360.9 270.8,1361.3 271.0,1359.8 271.1,1356.5 271.2,1354.6 271.4,1353.5 271.5,1353.2 271.7,1351.9 271.8,1348.6 271.9,1348.4 272.1,1345.6 272.2,1345.3 272.3,1344.1 272.5,1343.4 272.6,1340.2 272.7,1340.0 272.9,1338.7 273.0,1337.3 273.1,1333.6 273.3,1333.2 273.4,1333.0 273.5,1330.1 273.7,1329.6 273.8,1327.5 274.0,1326.5 274.1,1324.1 274.3,1321.2 274.5,1319.6 274.6,1317.9 274.8,1316.5 275.0,1316.5 275.2,1314.0 275.3,1312.7 275.5,1310.3 275.7,1308.8 275.9,1307.5 276.1,1306.0 276.3,1304.2 276.5,1302.3 276.7,1298.8 276.9,1297.7 277.1,1295.2 277.3,1294.7 277.5,1293.5 277.8,1290.0 278.0,1288.6 278.2,1287.3 278.4,1285.3 278.6,1284.8 278.9,1282.1 279.1,1281.0 279.3,1278.9 279.6,1277.4 279.8,1276.5 280.0,1274.8 280.3,1271.1 280.5,1271.1 280.8,1268.2 281.0,1265.9 281.3,1264.8 281.5,1263.4 281.7,1262.7 282.0,1259.6 282.2,1257.0 282.5,1257.5 282.7,1254.2 282.9,1253.6 283.1,1253.1 283.3,1250.8 283.6,1249.1 283.8,1248.5 284.0,1245.1 284.2,1245.0 284.4,1243.1 284.6,1243.0 284.9,1241.1 285.1,1237.8 285.3,1236.6 285.5,1235.8 285.8,1234.9 286.0,1232.5 286.2,1231.1 286.4,1231.0 286.6,1229.6 286.9,1226.8 287.1,1226.5 287.3,1223.6 287.5,1221.5 287.7,1221.1 288.0,1219.9 288.2,1219.0 288.4,1217.7 288.6,1215.8 288.8,1214.2 289.0,1212.6 289.3,1211.1 289.5,1209.8 289.7,1208.8 289.9,1205.9 290.1,1203.7 290.3,1202.6 290.5,1201.1 290.7,1199.9 291.0,1199.3 291.2,1195.7 291.5,1194.9 291.7,1194.1 292.0,1191.0 292.2,1188.8 292.5,1187.5 292.7,1185.4 293.0,1185.4 293.3,1182.1 293.5,1180.5 293.8,1180.2 294.0,1178.5 294.3,1176.2 294.5,1175.3 294.7,1171.7 295.0,1172.4 295.2,1170.0 295.4,1167.9 295.6,1167.6 295.8,1165.8 296.0,1165.1 296.3,1161.5 296.5,1161.1 296.7,1159.4 296.9,1158.3 297.1,1155.8 297.4,1153.9 297.6,1153.6 297.8,1151.7 298.0,1151.5 298.2,1148.9 298.4,1147.4 298.7,1146.4 298.9,1144.7 299.1,1144.2 299.3,1142.3 299.5,1140.1 299.7,1138.0 300.0,1137.4 300.2,1136.3 300.4,1134.8 300.6,1133.9 300.8,1130.6 301.0,1129.6 301.2,1128.1 301.4,1126.3 301.6,1125.0 301.9,1123.8 302.1,1122.4 302.3,1120.3 302.5,1118.5 302.7,1117.4 302.9,1115.5 303.1,1114.5 303.3,1113.8 303.5,1112.2 303.7,1111.6 303.9,1109.1 304.1,1107.6 304.3,1106.3 304.5,1105.0 304.7,1103.3 304.9,1101.7 305.1,1100.3 305.3,1098.2 305.5,1097.7 305.7,1095.8 305.9,1093.6 306.1,1092.0 306.3,1090.1 306.5,1089.2 306.7,1087.0 306.8,1085.8 307.0,1084.1 307.2,1083.1 307.4,1081.8 307.6,1080.9 307.8,1079.8 308.0,1078.0 308.2,1075.4 308.4,1075.7 308.5,1073.8 308.7,1071.7 308.9,1070.6 309.1,1068.8 309.3,1066.5 309.5,1066.1 309.7,1065.5 309.8,1063.5 310.0,1060.6 310.2,1058.9 310.4,1059.4 310.6,1057.8 310.8,1056.0 310.9,1054.5 311.1,1051.5 311.3,1051.6 311.5,1048.7 311.7,1047.1 311.8,1046.2 312.0,1043.7 312.2,1044.3 312.4,1041.1 312.6,1041.0 312.8,1039.2 312.9,1038.1 313.1,1036.2 313.3,1035.6 313.5,1032.7 313.7,1031.5 313.9,1029.7 314.0,1029.1 314.2,1026.6 314.4,1026.3 314.6,1023.1 314.8,1022.0 315.0,1021.0 315.1,1018.7 315.3,1017.4 315.5,1017.5 315.7,1014.9 315.9,1013.0 316.1,1013.0 316.2,1010.9 316.4,1009.5 316.6,1008.6 316.8,1006.7 317.0,1004.2 317.2,1002.1 317.4,1001.6 317.6,1000.3 317.8,998.8 318.1,995.6 318.3,994.9 318.5,993.9 318.7,990.5 319.0,988.9 319.2,987.5 319.4,986.1 319.6,985.3 319.9,982.6 320.1,981.6 320.3,979.3 320.6,977.2 320.8,975.0 321.0,973.4 321.3,972.7 321.5,969.5 321.7,967.7 322.0,966.1 322.2,965.5 322.4,963.0 322.7,960.9 322.9,959.5 323.2,957.2 323.4,956.3 323.7,955.4 323.9,952.8 324.2,951.1 324.4,948.4 324.7,947.2 324.9,945.0 325.2,943.2 325.4,943.5 325.7,941.4 326.0,939.9 326.2,936.5 326.5,935.3 326.8,934.9 327.0,932.1 327.3,931.5 327.6,929.9 327.8,925.8 328.1,925.1 328.4,923.8 328.7,921.5 329.0,919.8 329.2,918.1 329.5,916.0 329.8,913.8 330.1,913.8 330.4,912.7 330.6,908.7 330.9,908.9 331.2,906.4 331.5,903.4 331.8,901.8 332.1,901.2 332.4,898.5 332.7,897.2 333.0,895.4 333.3,895.4 333.6,892.4 333.9,890.3 334.1,890.1 334.4,888.5 334.7,886.1 335.0,883.0 335.3,883.4 335.6,880.8 335.8,880.1 336.1,878.5 336.3,876.9 336.6,875.7 336.8,874.3 337.1,872.0 337.4,870.6 337.6,868.1 337.9,867.3 338.1,867.1 338.4,864.0 338.7,863.8 338.9,862.5 339.2,859.5 339.4,859.4 339.7,857.7 340.0,857.0 340.2,854.1 340.5,853.5 340.7,852.2 341.0,849.6 341.2,847.8 341.5,846.6 341.8,845.8 342.0,843.4 342.3,843.4 342.5,840.5 342.8,840.2 343.1,837.7 343.3,836.6 343.6,836.0 343.8,833.6 344.1,832.5 344.3,830.3 344.6,829.1 344.9,826.7 345.1,826.3 345.4,824.7 345.6,822.8 345.9,821.0 346.1,820.0 346.4,818.4 346.6,817.1 346.9,816.6 347.1,815.4 347.4,813.9 347.6,811.3 347.9,810.9 348.1,808.7 348.4,808.2 348.6,804.6 348.9,804.7 349.1,802.8 349.4,801.1 349.6,800.2 349.9,798.9 350.1,797.5 350.3,794.8 350.6,793.4 350.8,792.4 351.0,789.6 351.3,790.0 351.5,788.0 351.7,786.1 352.0,785.1 352.2,784.4 352.4,782.6 352.7,780.7 352.9,778.2 353.2,778.3 353.5,775.2 353.8,774.7 354.1,772.0 354.3,770.7 354.6,769.5 354.9,765.7 355.2,764.6 355.6,762.6 355.9,760.6 356.2,759.5 356.5,759.2 356.8,755.9 357.2,753.8 357.5,754.1 357.9,751.3 358.2,749.6 358.6,748.4 358.9,747.0 359.3,743.8 359.6,742.1 360.0,740.9 360.4,740.2 360.7,738.7 361.1,735.2 361.5,734.7 361.9,732.4 362.3,731.7 362.7,728.6 363.1,726.9 363.5,724.6 363.9,724.9 364.3,721.5 364.7,720.1 365.1,718.3 365.5,718.2 365.9,714.5 366.4,713.4 366.8,712.6 367.2,709.9 367.6,709.2 368.1,707.1 368.6,704.5 369.1,704.2 369.5,701.9 370.1,699.9 370.6,700.1 371.1,698.1 371.7,695.5 372.2,693.6 372.8,691.2 373.3,691.5 373.8,689.0 374.3,688.1 374.9,687.0 375.5,685.7 376.2,682.7 376.9,680.9 377.7,681.0 378.5,677.8 379.3,677.2 380.1,674.8 381.0,673.8 382.0,672.3 383.0,672.4 384.0,670.8 385.6,667.7 387.2,666.8 388.9,665.0 390.4,662.8 392.1,662.2 393.7,662.0 395.3,659.4 397.0,658.6 398.7,657.9 400.4,656.0 402.0,656.8 403.6,654.8 405.2,654.3 406.9,653.1 408.4,652.8 410.0,651.7 411.5,650.3 413.1,648.9 414.7,648.8 416.3,647.1 417.9,646.5 419.5,647.5 421.1,646.0 422.7,645.8 424.2,644.9 425.8,643.5 427.3,643.1 429.0,642.6 430.7,641.6 432.4,638.9 433.9,639.6 435.4,637.8 437.0,636.3 438.5,636.0 440.1,635.6 441.6,635.5 443.3,634.5 444.9,632.9 446.5,632.8 448.1,631.3 449.8,629.5 451.4,629.5 453.1,628.9 455.0,627.6 456.8,625.9 458.6,622.7 460.5,622.7 462.3,621.7 464.2,618.1 466.2,617.3 468.1,614.1 470.0,613.4 472.0,611.5 473.5,607.9 474.8,607.8 476.0,605.0 477.2,604.7 478.5,601.1 480.5,600.3 482.5,596.6 484.7,594.2 487.0,591.0 489.2,589.9 491.4,585.8 493.7,583.5 496.0,580.8 498.2,578.0 500.5,575.2 502.9,573.9 505.2,570.9 507.7,568.6 510.2,564.3 512.7,562.5 515.3,558.6 517.8,555.9 520.4,554.0 523.0,551.7 525.6,549.3 528.2,546.3 531.0,542.3 533.8,540.2 536.7,538.3 539.5,536.0 542.4,533.1 545.3,529.4 548.2,527.7 551.1,523.3 554.2,521.3 557.3,518.8 560.4,514.1 563.6,511.5 566.8,509.3 570.0,506.3 573.2,503.4 576.4,501.6 579.7,499.1 583.1,495.8 586.6,493.5 590.1,489.8 593.6,487.1 597.1,483.7 600.6,481.2 604.2,479.0 607.9,476.8 611.6,472.8 615.4,470.8 619.1,468.1 622.9,465.0 626.7,462.6 630.6,458.1 634.6,457.6 638.8,453.9 643.0,453.4 647.1,451.2 651.2,449.1 655.5,448.6 659.6,446.4 661.3,446.3"/>
<polyline stroke="#000080" marker-start="url(#m-navy)" marker-mid="url(#m-navy)" marker-end="url(#m-navy)" points="267.0,1390.0 267.2,1389.0 267.5,1387.1 267.7,1386.0 267.9,1384.3 268.1,1382.8 268.3,1380.8 268.6,1380.1 268.8,1377.6 269.0,1376.4 269.2,1375.1 269.4,1374.0 269.7,1371.6 269.9,1370.6 270.1,1369.0 270.4,1366.4 270.6,1365.1 270.8,1362.8 271.0,1361.4 271.2,1359.3 271.4,1358.5 271.6,1356.3 271.8,1355.0 272.0,1353.1 272.2,1351.5 272.4,1349.3 272.5,1347.7 272.7,1346.7 272.8,1344.8 273.0,1343.9 273.1,1342.1 273.3,1340.7 273.4,1339.6 273.6,1337.7 273.7,1335.8 273.9,1334.3 274.0,1333.2 274.2,1331.7 274.3,1330.3 274.5,1328.6 274.6,1327.4 274.8,1325.6 274.9,1324.4 275.1,1323.0 275.2,1320.9 275.4,1319.6 275.5,1318.3 275.7,1317.0 275.9,1314.8 276.1,1313.3 276.2,1311.7 276.4,1310.2 276.6,1307.9 276.8,1306.5 277.0,1304.3 277.3,1302.9 277.5,1300.8 277.7,1299.8 277.9,1297.6 278.1,1296.3 278.3,1294.1 278.6,1292.9 278.8,1290.6 279.0,1288.8 279.3,1287.3 279.5,1285.9 279.7,1284.1 280.0,1282.1 280.2,1279.9 280.5,1278.7 280.7,1276.6 280.9,1275.3 281.2,1273.8 281.4,1271.7 281.7,1270.0 281.9,1268.0 282.1,1267.0 282.3,1265.1 282.5,1264.1 282.8,1262.4 283.0,1261.3 283.2,1259.1 283.4,1257.7 283.7,1256.7 283.9,1255.1 284.1,1253.7 284.3,1252.5 284.6,1250.6 284.8,1249.5 285.0,1247.7 285.2,1246.6 285.5,1244.9 285.7,1242.9 285.9,1241.6 286.1,1240.6 286.4,1238.6 286.6,1237.0 286.8,1235.8 287.1,1234.2 287.3,1233.0 287.5,1231.3 287.8,1229.6 288.0,1228.3 288.2,1226.8 288.5,1225.8 288.7,1224.4 288.9,1222.6 289.1,1220.6 289.4,1219.7 289.6,1218.2 289.8,1216.9 290.1,1214.9 290.3,1213.1 290.5,1212.2 290.8,1210.2 291.0,1209.4 291.2,1207.9 291.5,1206.1 291.7,1205.1 291.9,1202.9 292.2,1201.9 292.4,1199.7 292.7,1198.3 293.0,1196.5 293.2,1195.0 293.5,1193.3 293.8,1190.6 294.1,1188.9 294.3,1187.9 294.5,1185.9 294.8,1185.1 295.0,1183.5 295.2,1182.1 295.5,1180.4 295.7,1178.8 295.9,1177.9 296.2,1176.2 296.4,1174.0 296.7,1172.7 296.9,1171.7 297.1,1169.9 297.4,1168.5 297.6,1167.4 297.9,1165.5 298.1,1164.6 298.4,1162.9 298.6,1161.3 298.8,1159.4 299.1,1158.2 299.3,1157.0 299.6,1155.8 299.8,1153.4 300.0,1152.0 300.3,1151.1 300.5,1149.7 300.8,1147.5 301.0,1146.7 301.3,1145.2 301.5,1143.6 301.7,1141.8 302.0,1140.4 302.2,1138.9 302.5,1137.9 302.7,1135.9 302.9,1134.4 303.2,1133.3 303.5,1131.5 303.8,1129.8 304.0,1128.0 304.3,1125.5 304.6,1123.8 304.8,1122.5 305.1,1121.1 305.4,1119.4 305.6,1117.4 305.9,1116.0 306.2,1113.5 306.4,1111.8 306.7,1110.2 307.0,1108.4 307.2,1106.7 307.5,1104.8 307.7,1103.3 307.9,1101.5 308.2,1100.5 308.4,1099.4 308.6,1097.4 308.8,1096.1 309.0,1094.6 309.2,1093.5 309.4,1091.8 309.6,1090.4 309.8,1088.4 310.0,1087.5 310.3,1085.3 310.5,1084.0 310.7,1082.9 310.9,1081.0 311.1,1080.0 311.3,1078.5 311.5,1076.4 311.7,1074.9 311.9,1073.3 312.1,1072.6 312.3,1070.6 312.5,1069.1 312.7,1067.5 312.9,1065.9 313.1,1064.7 313.3,1063.0 313.5,1061.9 313.7,1060.0 313.9,1058.8 314.0,1057.8 314.2,1055.7 314.4,1054.8 314.6,1052.4 314.8,1051.4 315.0,1050.0 315.2,1048.9 315.4,1047.4 315.6,1045.4 315.8,1044.2 316.0,1042.9 316.2,1041.2 316.4,1039.9 316.6,1038.4 316.8,1036.5 317.0,1035.2 317.1,1033.2 317.3,1032.0 317.5,1030.9 317.7,1029.1 317.9,1027.4 318.1,1025.7 318.3,1024.3 318.5,1022.7 318.7,1021.4 318.9,1020.0 319.1,1018.2 319.3,1017.5 319.5,1015.6 319.7,1014.3 319.9,1012.8 320.1,1010.8 320.3,1009.3 320.5,1007.9 320.7,1007.2 320.9,1004.9 321.1,1003.7 321.3,1002.7 321.5,1000.9 321.7,998.8 321.9,998.2 322.1,996.2 322.3,994.3 322.6,992.7 322.8,991.2 323.0,988.9 323.3,987.8 323.5,986.1 323.8,983.9 324.0,982.4 324.3,980.4 324.5,978.5 324.8,977.4 325.0,975.5 325.3,974.2 325.5,971.8 325.8,970.3 326.1,968.8 326.3,966.5 326.6,965.0 326.8,963.6 327.1,961.5 327.4,959.9 327.6,958.3 327.9,956.5 328.2,955.2 328.5,953.4 328.7,951.7 329.0,949.6 329.3,947.6 329.6,946.3 329.9,944.4 330.2,942.7 330.5,941.2 330.8,939.7 331.1,937.9 331.4,935.5 331.7,934.5 332.0,932.6 332.3,930.5 332.6,929.2 333.0,927.2 333.3,925.6 333.6,923.9 334.0,921.8 334.3,920.3 334.6,918.6 335.0,916.5 335.3,915.5 335.7,913.4 336.0,911.8 336.3,910.8 336.6,909.2 336.9,907.2 337.3,905.8 337.6,904.5 337.9,902.6 338.2,901.8 338.5,899.9 338.8,898.2 339.1,897.3 339.5,895.7 339.8,893.7 340.1,892.8 340.4,891.5 340.7,889.3 341.1,888.5 341.4,886.6 341.7,885.3 342.0,883.5 342.4,882.5 342.7,881.4 343.0,879.3 343.3,877.6 343.7,877.0 344.0,875.6 344.3,873.7 344.6,872.6 345.0,871.2 345.3,869.5 345.6,868.1 345.9,866.0 346.3,865.2 346.6,863.3 346.9,861.7 347.2,860.5 347.6,859.4 347.9,857.5 348.2,855.7 348.5,854.4 348.9,852.9 349.2,851.9 349.5,850.7 349.8,848.8 350.1,847.0 350.4,846.0 350.8,844.0 351.1,842.4 351.4,841.6 351.7,839.8 352.0,838.4 352.3,836.6 352.6,835.5 352.9,834.2 353.2,833.1 353.5,830.7 353.8,829.7 354.1,828.2 354.5,826.6 354.8,825.1 355.1,823.0 355.5,821.4 355.8,819.6 356.1,818.2 356.5,816.6 356.8,814.3 357.1,813.0 357.4,811.2 357.7,809.2 358.0,807.9 358.3,806.0 358.6,804.1 358.9,802.5 359.2,801.1 359.5,799.1 359.7,797.4 360.0,795.6 360.2,794.5 360.4,793.1 360.6,791.1 360.8,789.6 361.0,788.5 361.2,786.6 361.4,784.9 361.6,783.6 361.8,782.5 362.0,780.9 362.2,779.2 362.5,777.5 362.8,775.7 363.1,774.4 363.4,772.6 363.7,771.2 364.0,769.5 364.3,768.1 364.7,766.6 365.0,765.3 365.4,763.2 365.7,761.8 366.1,760.0 366.5,758.6 367.0,757.8 367.6,755.7 368.1,753.7 368.7,752.1 369.3,751.1 369.9,749.8 370.6,748.6 371.2,747.0 372.0,745.4 372.7,744.5 373.6,742.5 374.6,741.2 375.6,739.7 377.1,738.3 378.7,736.5 380.2,734.8 381.9,733.0 383.4,732.2 384.9,730.4 386.5,729.6 388.0,727.7 389.5,726.8 391.1,725.7 392.7,724.0 394.4,722.8 396.1,722.3 397.8,720.5 399.4,719.8 401.1,718.4 402.8,718.2 404.5,717.0 406.2,715.3 407.9,714.9 409.6,713.7 411.1,712.2 412.6,711.5 414.1,710.9 415.7,710.1 417.2,708.9 418.7,707.8 420.2,707.4 421.8,706.8 423.3,705.8 424.9,704.7 426.5,704.0 428.1,703.7 429.7,702.7 431.2,702.2 432.8,700.9 434.4,700.6 436.0,700.0 437.5,699.2 439.0,697.8 440.6,697.6 442.3,696.3 444.0,695.0 445.8,693.7 447.5,693.3 449.2,692.5 450.9,691.1 452.6,689.7 454.5,688.5 456.3,687.3 458.1,686.5 460.0,684.4 461.9,682.7 463.7,681.1 465.7,678.9 467.6,677.0 469.6,675.3 471.6,673.1 472.8,671.0 474.0,669.5 475.2,668.4 476.4,666.6 477.6,664.7 478.8,663.6 480.1,661.9 481.4,659.7 482.8,657.6 484.1,656.5 485.4,654.7 486.8,652.7 488.2,651.0 490.4,647.6 492.7,645.5 494.9,643.3 497.1,640.4 499.4,638.0 501.8,636.2 504.2,633.6 506.6,632.9 509.1,635.0 511.5,637.4 513.0,639.4 514.2,642.0 515.0,643.6"/>
</g>
<g shape-rendering="crispEdges">
<rect x="1129" y="758.9" width="128" height="1.3" fill="#000000"/>
<g transform="translate(1193 759.5)" fill="#000000"><rect x="-5" y="-5.2" width="10" height="10.4"/></g>
<rect x="1129" y="839.9" width="128" height="1.3" fill="#ff0000"/>
<g transform="translate(1193 840.5)" fill="#ff0000"><ellipse cx="0" cy="0" rx="5.1" ry="5.4"/></g>
<rect x="1129" y="920.8" width="128" height="1.3" fill="#0000ff"/>
<g transform="translate(1193 921.4)" fill="#0000ff"><path d="M0 -8.6 L6.2 4.6 L-6.2 4.6Z"/></g>
<rect x="1129" y="1001.6" width="128" height="1.3" fill="#008080"/>
<g transform="translate(1193 1002.2)" fill="#008080"><path d="M0 8.4 L6.2 -4.4 L-6.2 -4.4Z"/></g>
<rect x="1129" y="1082.6" width="128" height="1.3" fill="#ff00ff"/>
<g transform="translate(1193 1083.2)" fill="#ff00ff"><path d="M-6.4 0 L4.2 -6.9 L4.2 6.9Z"/></g>
<rect x="1129" y="1163.8" width="128" height="1.3" fill="#808000"/>
<g transform="translate(1193 1164.4)" fill="#808000"><path d="M7 0 L-4 -6.9 L-4 6.9Z"/></g>
<rect x="1129" y="1244.9" width="128" height="1.3" fill="#000080"/>
<g transform="translate(1193 1245.5)" fill="#000080"><path d="M0 -7.6 L6.6 0 L0 7.4 L-6.6 0Z"/></g>
</g>
<g font-family="'Liberation Sans', Arial, Helvetica, sans-serif" fill="#000" stroke="#000" stroke-width="0.6" style="white-space:pre">
<text transform="translate(243.20 1444.80) scale(0.8156 1)" font-size="89.50" x="-46.28" y="0">0</text>
<text transform="translate(243.20 1295.69) scale(0.8156 1)" font-size="89.50" x="-91.55 -46.28" y="0">50</text>
<text transform="translate(243.20 1146.58) scale(0.8156 1)" font-size="89.50" x="-136.83 -91.55 -46.28" y="0">100</text>
<text transform="translate(243.20 997.47) scale(0.8156 1)" font-size="89.50" x="-136.83 -91.55 -46.28" y="0">150</text>
<text transform="translate(243.20 848.36) scale(0.8156 1)" font-size="89.50" x="-136.83 -91.55 -46.28" y="0">200</text>
<text transform="translate(243.20 699.24) scale(0.8156 1)" font-size="89.50" x="-136.83 -91.55 -46.28" y="0">250</text>
<text transform="translate(243.20 550.13) scale(0.8156 1)" font-size="89.50" x="-136.83 -91.55 -46.28" y="0">300</text>
<text transform="translate(243.20 401.02) scale(0.8156 1)" font-size="89.50" x="-136.83 -91.55 -46.28" y="0">350</text>
<text transform="translate(243.20 251.91) scale(0.8156 1)" font-size="89.50" x="-136.83 -91.55 -46.28" y="0">400</text>
<text transform="translate(243.20 102.80) scale(0.8156 1)" font-size="89.50" x="-136.83 -91.55 -46.28" y="0">450</text>
<text transform="translate(267.50 1512.80) scale(0.8156 1)" font-size="89.50" x="-81.47 -36.20 -13.58 31.70" y="0">0.00</text>
<text transform="translate(613.72 1512.80) scale(0.8156 1)" font-size="89.50" x="-81.04 -35.76 -13.14 32.13" y="0">0.01</text>
<text transform="translate(959.94 1512.80) scale(0.8156 1)" font-size="89.50" x="-80.97 -35.69 -13.08 32.20" y="0">0.02</text>
<text transform="translate(1306.17 1512.80) scale(0.8156 1)" font-size="89.50" x="-81.25 -35.98 -13.36 31.91" y="0">0.03</text>
<text transform="translate(1652.39 1512.80) scale(0.8156 1)" font-size="89.50" x="-81.91 -36.63 -14.02 31.26" y="0">0.04</text>
<text transform="translate(934.00 1643.00) scale(0.8045 1)" font-size="89.50" x="-4.06 50.99 73.92 101.41 147.31 165.65 211.55 234.48" y="0">Strain/1</text>
<text transform="translate(88.90 998.60) rotate(-90) scale(1.1290 1)" font-size="77.50" x="-3.52 42.68 61.92 84.99 123.51 158.14 192.77 212.01 269.71 315.91" y="0">Stress/MPa</text>
<text transform="translate(1274.60 781.10) scale(0.7864 1)" font-size="76.30" x="-3.05 37.54 78.14 138.94 199.74 220.02 280.83 297.05" y="0">50mm/min</text>
<text transform="translate(1274.60 862.10) scale(0.7864 1)" font-size="76.30" x="-3.91 36.68 77.28 138.08 198.89 219.17 279.97 296.19" y="0">75mm/min</text>
<text transform="translate(1278.60 943.00) scale(0.7864 1)" font-size="76.30" x="-5.81 34.78 75.38 115.97 176.78 237.58 257.86 318.67 334.88" y="0">100mm/min</text>
<text transform="translate(1274.60 1023.80) scale(0.7864 1)" font-size="76.30" x="-3.84 36.76 77.35 117.95 178.75 239.56 259.84 320.64 336.86" y="0">200mm/min</text>
<text transform="translate(1274.60 1104.80) scale(0.7864 1)" font-size="76.30" x="-2.91 37.69 78.29 118.88 179.69 240.49 260.77 321.57 337.79" y="0">300mm/min</text>
<text transform="translate(1274.60 1186.00) scale(0.7864 1)" font-size="76.30" x="-1.75 38.84 79.44 120.04 180.84 241.64 261.92 322.73 338.95" y="0">400mm/min</text>
<text transform="translate(1274.60 1267.10) scale(0.7864 1)" font-size="76.30" x="-3.05 37.54 78.14 118.73 179.54 240.34 260.62 321.42 337.64" y="0">500mm/min</text>
</g>
</svg>
</body>
</html>
